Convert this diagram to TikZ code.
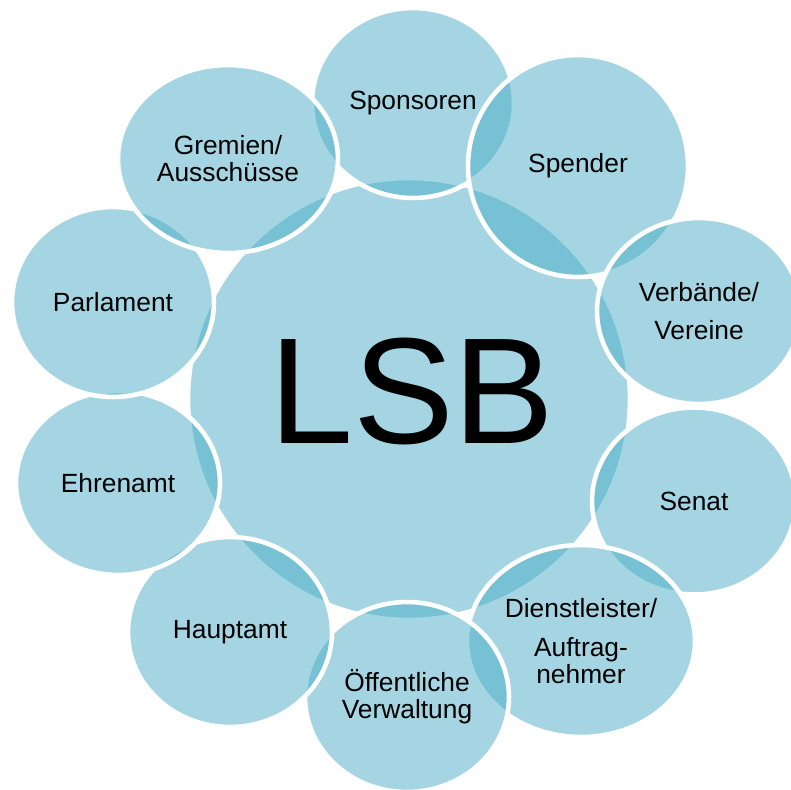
\documentclass[tikz,border=0pt]{standalone}
\usepackage{fontspec}
\setmainfont{Liberation Sans}
\usepackage{tikz}
\usetikzlibrary{shapes.geometric}
\definecolor{lsbblue}{HTML}{4BACC6}

\begin{document}
\begin{tikzpicture}[x=0.02cm, y=-0.02cm,
    bubble/.style={ellipse, draw=white, line width=2.6pt, fill=lsbblue,
        fill opacity=0.5, text opacity=1, align=center, inner sep=0pt,
        font=\fontsize{15}{15.4}\selectfont}]
    \useasboundingbox (0,0) rectangle (791,789);

    % Centre circle
    \node[bubble, minimum width=8.84cm, minimum height=8.84cm] (zentrum) at (409,399) {};
    \node[font=\fontsize{86}{86}\selectfont] (lsb) at (412,391) {LSB};

    % Ring of partners, clockwise from the top
    \node[bubble, minimum width=4.04cm, minimum height=3.8cm] (sponsoren) at (413,103) {Sponsoren};
    \node[bubble, minimum width=4.4cm, minimum height=4.44cm] (spender) at (578,166) {Spender};
    \node[bubble, minimum width=4.08cm, minimum height=3.72cm] (verbaende) at (699,311) {Verbände/\\[6.5pt]Vereine};
    \node[bubble, minimum width=4.08cm, minimum height=3.74cm] (senat) at (694,501) {Senat};
    \node[bubble, minimum width=4.56cm, minimum height=3.84cm] (dienstleister) at (581,641) {Dienstleister/\\[6.5pt]Auftrag-\\nehmer};
    \node[bubble, minimum width=4.08cm, minimum height=3.8cm] (verwaltung) at (407,697) {Öffentliche\\Verwaltung};
    \node[bubble, minimum width=4.08cm, minimum height=3.8cm] (hauptamt) at (230,632) {Hauptamt};
    \node[bubble, minimum width=4.08cm, minimum height=3.68cm] (ehrenamt) at (118,483) {Ehrenamt};
    \node[bubble, minimum width=4.04cm, minimum height=3.8cm] (parlament) at (113,302) {Parlament};
    \node[bubble, minimum width=4.4cm, minimum height=3.76cm] (gremien) at (228,159) {Gremien/\\Ausschüsse};
\end{tikzpicture}
\end{document}
